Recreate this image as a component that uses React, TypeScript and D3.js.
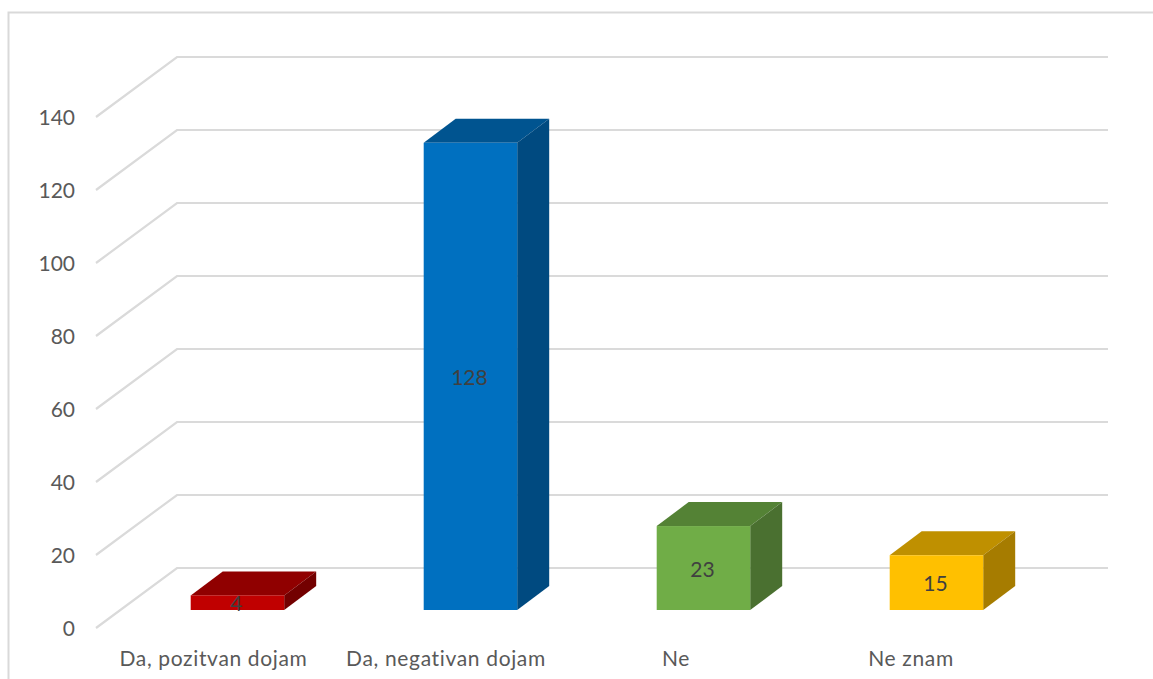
import React from "react";
import * as d3 from "d3";

const categories = ["Da, pozitvan dojam", "Da, negativan dojam", "Ne", "Ne znam"];
const values = [4, 128, 23, 15];
const frontColors = ["#c00000", "#0070c0", "#70ad47", "#ffc000"];
const topColors = ["#900000", "#005490", "#548235", "#bf9000"];
const sideColors = ["#730000", "#004a80", "#4a7030", "#a67c00"];
const ticks = [0, 20, 40, 60, 80, 100, 120, 140];
const labelCenters = [213.5, 446, 676, 911];

const W = 1153, H = 679;
const FONT = "Lato, Carlito, Calibri, sans-serif";

export default function App() {
  const y = d3.scaleLinear().domain([0, 140]).range([610, 99]);
  const x = d3.scaleBand<string>().domain(categories).range([74.2, 1099.7]).paddingInner(0.5987).paddingOuter(0.5);
  const bw = x.bandwidth(), dx = 32, dy = -24;
  return (
    <svg width={W} height={H} style={{ position: "absolute", left: 0, top: 0, background: "#fff" }}>
      <path d="M8.5 679V12.5H1153" fill="none" stroke="#d9d9d9" strokeWidth={2} />
      {ticks.map((t) => (
        <g key={t}>
          <polyline
            points={`96,${y(t) + 18} 177,${y(t) - 42} 1108,${y(t) - 42}`}
            fill="none" stroke="#dadada" strokeWidth={2.2}
          />
          <text x={75} y={y(t) + 25.6} textAnchor="end" fontFamily={FONT} fontSize={21} fill="#595959">{t}</text>
        </g>
      ))}
      {values.map((v, i) => {
        const x0 = x(categories[i])!, x1 = x0 + bw, y1 = y(v), y0 = y(0);
        return (
          <g key={categories[i]}>
            <polygon points={`${x0},${y1} ${x0 + dx},${y1 + dy} ${x1 + dx},${y1 + dy} ${x1},${y1}`} fill={topColors[i]} />
            <polygon points={`${x1},${y1} ${x1 + dx},${y1 + dy} ${x1 + dx},${y0 + dy} ${x1},${y0}`} fill={sideColors[i]} />
            <rect x={x0} y={y1} width={bw} height={y0 - y1} fill={frontColors[i]} />
            <text x={x0 + bw / 2 - 1} y={(y0 + y1) / 2 + 8.6} textAnchor="middle" fontFamily={FONT} fontSize={21} fill="#404040">{v}</text>
            <text x={labelCenters[i]} y={665.6} textAnchor="middle" fontFamily={FONT} fontSize={21} letterSpacing={0.65} fill="#595959">{categories[i]}</text>
          </g>
        );
      })}
    </svg>
  );
}
